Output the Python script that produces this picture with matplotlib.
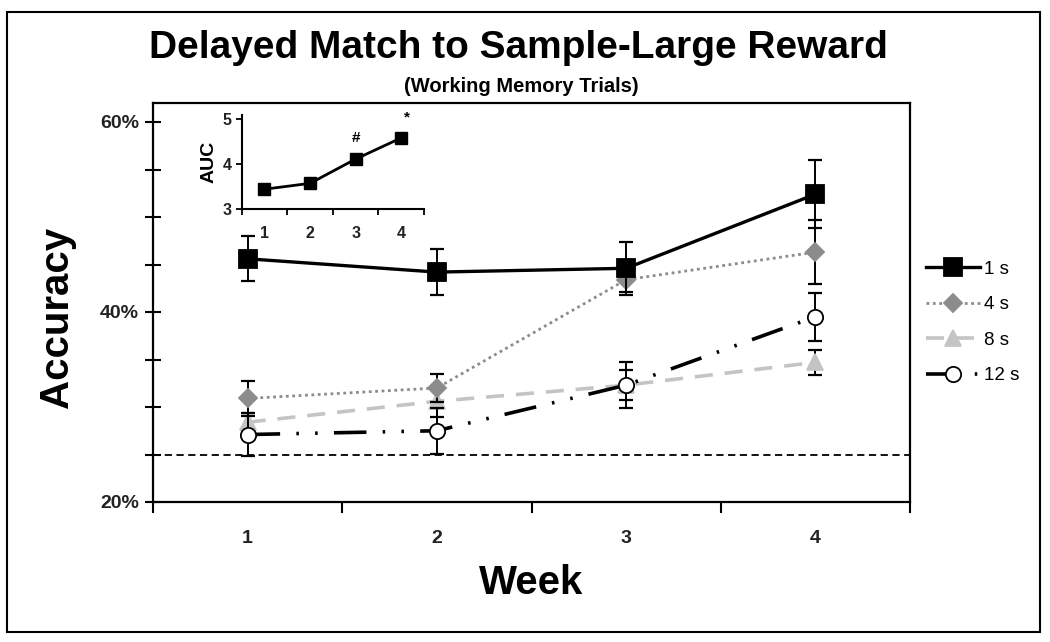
import matplotlib
matplotlib.use("Agg")
import matplotlib.pyplot as plt
from matplotlib.patches import Rectangle

# ---- data ----
weeks = [1, 2, 3, 4]
week_labels = ["1", "2", "3", "4"]
series_labels = ["1 s", "4 s", "8 s", "12 s"]
acc_1s = [45.6, 44.2, 44.6, 52.4]
err_1s = [2.35, 2.4, 2.8, 3.6]
acc_4s = [30.9, 32.0, 43.4, 46.3]
err_4s = [1.8, 1.5, 1.3, 3.4]
acc_8s = [28.4, 30.6, 32.3, 34.7]
err_8s = [1.0, 1.6, 1.6, 1.3]
acc_12s = [27.1, 27.5, 32.3, 39.5]
err_12s = [2.3, 2.4, 2.4, 2.5]
chance = 25.0
auc = [3.44, 3.57, 4.11, 4.58]
auc_marks = {3: "#", 4: "*"}

SANS = ["Liberation Sans", "DejaVu Sans"]
plt.rcParams["font.family"] = SANS

W, H = 1050, 642
fig = plt.figure(figsize=(W / 100, H / 100), dpi=100)

def fx(px):
    return px / W

def fy(py):
    return 1 - py / H

# outer frame
fig.patches.append(Rectangle((fx(7), fy(632)), fx(1040) - fx(7), fy(12) - fy(632),
                             transform=fig.transFigure, fill=False, lw=1.5, ec="black"))

# main axes
L, R, T, B = 153, 910, 103, 502
ax = fig.add_axes([fx(L), fy(B), fx(R) - fx(L), fy(T) - fy(B)])
ax.set_xlim(0.5, 4.5)
ax.set_ylim(20, 20 + (B - T) / 9.5)

for sp in ax.spines.values():
    sp.set_linewidth(1.6)

styles = [
    dict(data=acc_1s, err=err_1s, color="black", ls="-", lw=2.4, marker="s", ms=13,
         mfc="black", mec="black", z=6),
    dict(data=acc_4s, err=err_4s, color="#8c8c8c", ls=(0, (1, 1.3)), lw=2.0, marker="D", ms=9,
         mfc="#8c8c8c", mec="#8c8c8c", z=4),
    dict(data=acc_8s, err=err_8s, color="#c4c4c4", ls=(0, (5, 3.3)), lw=2.6, marker="^", ms=11,
         mfc="#c4c4c4", mec="#c4c4c4", z=3),
    dict(data=acc_12s, err=err_12s, color="black", ls=(0, (9, 4.5, 0.7, 4.5, 0.7, 4.5)), lw=2.6,
         marker="o", ms=11, mfc="white", mec="black", z=5),
]

handles = []
for st, lab in zip(styles, series_labels):
    ax.errorbar(weeks, st["data"], yerr=st["err"], fmt="none", ecolor="black",
                elinewidth=1.4, capsize=5, capthick=1.6, zorder=st["z"] - 0.5)
    ln, = ax.plot(weeks, st["data"], color=st["color"], ls=st["ls"], lw=st["lw"],
                  marker=st["marker"], ms=st["ms"], mfc=st["mfc"], mec=st["mec"],
                  mew=1.3, zorder=st["z"], label=lab)
    handles.append(ln)

ax.axhline(chance, color="black", ls=(0, (4, 2.5)), lw=1.3, zorder=2, clip_on=False)

# y ticks
ax.set_yticks([20, 40, 60])
ax.set_yticklabels(["20%", "40%", "60%"])
ax.set_yticks([25, 30, 35, 45, 50, 55], minor=True)
ax.tick_params(axis="y", which="both", direction="inout", length=12, width=1.5,
               labelsize=14, pad=4)
for t in ax.get_yticklabels():
    t.set_fontweight("bold")
    t.set_color("#222222")

# x ticks: boundaries as ticks, week labels centred
ax.set_xticks([0.5, 1.5, 2.5, 3.5, 4.5])
ax.set_xticklabels([])
ax.set_xticks(weeks, minor=True)
ax.set_xticklabels(week_labels, minor=True)
ax.tick_params(axis="x", which="major", direction="out", length=8, width=1.5)
ax.tick_params(axis="x", which="minor", length=0, labelsize=14, pad=20)
for t in ax.get_xticklabels(minor=True):
    t.set_fontweight("bold")
    t.set_color("#222222")

# legend
leg = fig.legend(handles=handles, labels=series_labels, loc="upper left",
                 bbox_to_anchor=(fx(918), fy(253)), frameon=False, fontsize=13.5,
                 handlelength=2.9, labelspacing=0.98, handletextpad=0.2,
                 borderaxespad=0)

# titles and axis labels
fig.text(fx(518), fy(48), "Delayed Match to Sample-Large Reward", ha="center", va="center",
         fontsize=28, fontweight="bold")
fig.text(fx(521), fy(86), "(Working Memory Trials)", ha="center", va="center",
         fontsize=14.5, fontweight="bold")
fig.text(fx(57), fy(317), "Accuracy", rotation=90, ha="center", va="center",
         fontsize=29, fontweight="bold")
fig.text(fx(531), fy(583), "Week", ha="center", va="center",
         fontsize=29, fontweight="bold")

# inset
iL, iR, iB = 241.7, 424, 209
ppu = 45.0
ylo, yhi = 3, 5.08
iT = iB - (yhi - ylo) * ppu
ins = fig.add_axes([fx(iL), fy(iB), fx(iR) - fx(iL), fy(iT) - fy(iB)])
ins.set_xlim(0.5, 4.5)
ins.set_ylim(ylo, yhi)
ins.spines["top"].set_visible(False)
ins.spines["right"].set_visible(False)
for s in ("left", "bottom"):
    ins.spines[s].set_linewidth(1.5)
ins.plot(weeks, auc, color="black", lw=2.0, marker="s", ms=8.5, zorder=3)
for wk, mark in auc_marks.items():
    ins.annotate(mark, (wk, auc[wk - 1]), xytext=(0 if mark == "#" else 4, 10),
                 textcoords="offset points", ha="center", va="bottom",
                 fontsize=11, fontweight="bold")
ins.set_yticks([3, 4, 5])
ins.set_yticklabels(["3", "4", "5"])
ins.tick_params(axis="y", direction="out", length=4, width=1.3, labelsize=11.5, pad=3)
ins.set_xticks([0.5, 1.5, 2.5, 3.5, 4.5])
ins.set_xticklabels([])
ins.set_xticks(weeks, minor=True)
ins.set_xticklabels(week_labels, minor=True)
ins.tick_params(axis="x", which="major", direction="out", length=4, width=1.3)
ins.tick_params(axis="x", which="minor", length=0, labelsize=11.5, pad=12)
for t in ins.get_yticklabels() + ins.get_xticklabels(minor=True):
    t.set_fontweight("bold")
    t.set_color("#222222")
ins.set_ylabel("AUC", fontsize=14, fontweight="bold", labelpad=4)
ins.patch.set_alpha(0)

fig.savefig("out.png", dpi=100)
